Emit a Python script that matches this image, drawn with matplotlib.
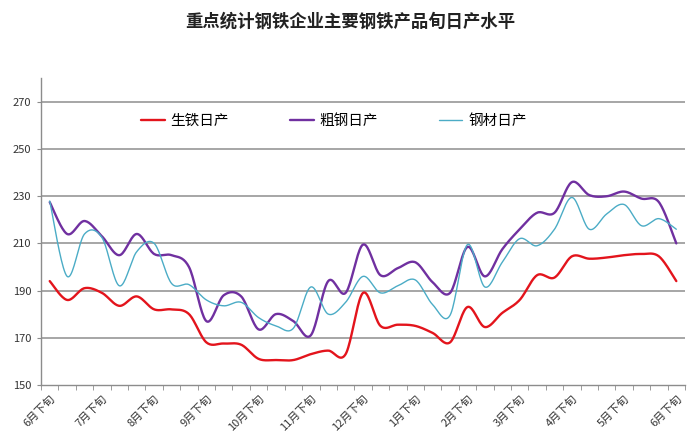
import numpy as np
import matplotlib
matplotlib.use("Agg")
import matplotlib.pyplot as plt

plt.rcParams['font.family'] = ['Noto Sans CJK SC', 'DejaVu Sans']

# 37 ten-day periods, from one 6月下旬 to the next
MONTHS = ['6月', '7月', '8月', '9月', '10月', '11月', '12月',
          '1月', '2月', '3月', '4月', '5月', '6月']
TICK_LABELS = [m + '下旬' for m in MONTHS]

PIG_IRON = [194, 186, 191, 189, 183.5, 187.5, 182, 182, 180, 168, 167.5, 167,
            161, 160.5, 160.5, 163, 164.5, 163, 189, 175, 175.5, 175, 172, 168,
            183, 174.5, 180.5, 186, 196.5, 195.5, 204.5, 203.5, 204, 205, 205.5,
            204.5, 194]
CRUDE_STEEL = [227.5, 214, 219.5, 213, 205, 214, 205.5, 205, 200, 177, 188, 187.5,
               173.5, 180, 177, 171, 194, 189, 209.5, 196.5, 199.5, 202, 193.5, 189,
               208.5, 196, 207.5, 216, 223, 223, 236, 230.5, 230, 232, 229, 227.5,
               210]
STEEL_PRODUCTS = [228, 196, 214, 212.5, 192, 206.5, 210, 193, 192.5, 186, 183.5, 185,
                  178.5, 175, 174, 191.5, 180, 185, 196, 189, 192, 194.5, 184, 179.5,
                  209.5, 191.5, 202, 212, 209, 216, 229.5, 216, 222.5, 226.5, 217.5,
                  220.5, 216]

SERIES = [('生铁日产', PIG_IRON, '#e3141c', 1.7),
          ('粗钢日产', CRUDE_STEEL, '#7030a0', 1.7),
          ('钢材日产', STEEL_PRODUCTS, '#4bacc6', 1.0)]


def smooth(x, y, n=20):
    # Excel-style smoothed line: cubic Bezier with Catmull-Rom control points
    x = np.asarray(x, float)
    y = np.asarray(y, float)
    px = np.concatenate([[x[0]], x, [x[-1]]])
    py = np.concatenate([[y[0]], y, [y[-1]]])
    t = np.linspace(0, 1, n, endpoint=False)
    xs, ys = [], []
    for i in range(1, len(px) - 2):
        p0 = np.array([px[i], py[i]])
        p3 = np.array([px[i + 1], py[i + 1]])
        c1 = p0 + (p3 - np.array([px[i - 1], py[i - 1]])) / 6
        c2 = p3 - (np.array([px[i + 2], py[i + 2]]) - p0) / 6
        b = ((1 - t) ** 3)[:, None] * p0 + (3 * (1 - t) ** 2 * t)[:, None] * c1 \
            + (3 * (1 - t) * t ** 2)[:, None] * c2 + (t ** 3)[:, None] * p3
        xs.append(b[:, 0])
        ys.append(b[:, 1])
    xs.append([x[-1]])
    ys.append([y[-1]])
    return np.concatenate(xs), np.concatenate(ys)


fig = plt.figure(figsize=(7, 4.37), dpi=100)
ax = fig.add_axes([0.0586, 0.1195, 0.92, 0.701])

x = np.arange(len(PIG_IRON))
for label, vals, color, lw in SERIES:
    sx, sy = smooth(x, vals)
    ax.plot(sx, sy, color=color, lw=lw, label=label, solid_capstyle='round')

ax.set_xlim(-0.5, len(x) - 0.5)
ax.set_ylim(150, 280)
ax.set_yticks(np.arange(150, 271, 20))
for v in range(170, 271, 20):
    ax.axhline(v, color='#a6a6a6', lw=1.4, zorder=0)

for s in ['top', 'right']:
    ax.spines[s].set_visible(False)
for s in ['left', 'bottom']:
    ax.spines[s].set_color('#8c8c8c')
    ax.spines[s].set_linewidth(1.0)

ax.tick_params(axis='y', length=3, color='#8c8c8c', labelsize=8, labelcolor='#333333', pad=4)
ax.set_xticks(np.arange(-0.5, len(x), 1), minor=True)
ax.set_xticks(np.arange(0, len(x), 3))
ax.set_xticklabels(TICK_LABELS, rotation=45, ha='right', rotation_mode='anchor',
                   fontsize=8, color='#333333')
ax.tick_params(axis='x', which='major', length=0, pad=6)
ax.tick_params(axis='x', which='minor', length=3.5, color='#8c8c8c', direction='out')

ax.legend(loc='center', bbox_to_anchor=(0.455, 0.861), ncol=3, frameon=False,
          fontsize=10.5, handlelength=1.6, handletextpad=0.4, columnspacing=4.2)

fig.text(0.5, 0.95, '重点统计钢铁企业主要钢铁产品旬日产水平', ha='center', va='center',
         fontsize=12.5, fontweight='bold', color='#222222')

fig.savefig('out.png', dpi=100)
